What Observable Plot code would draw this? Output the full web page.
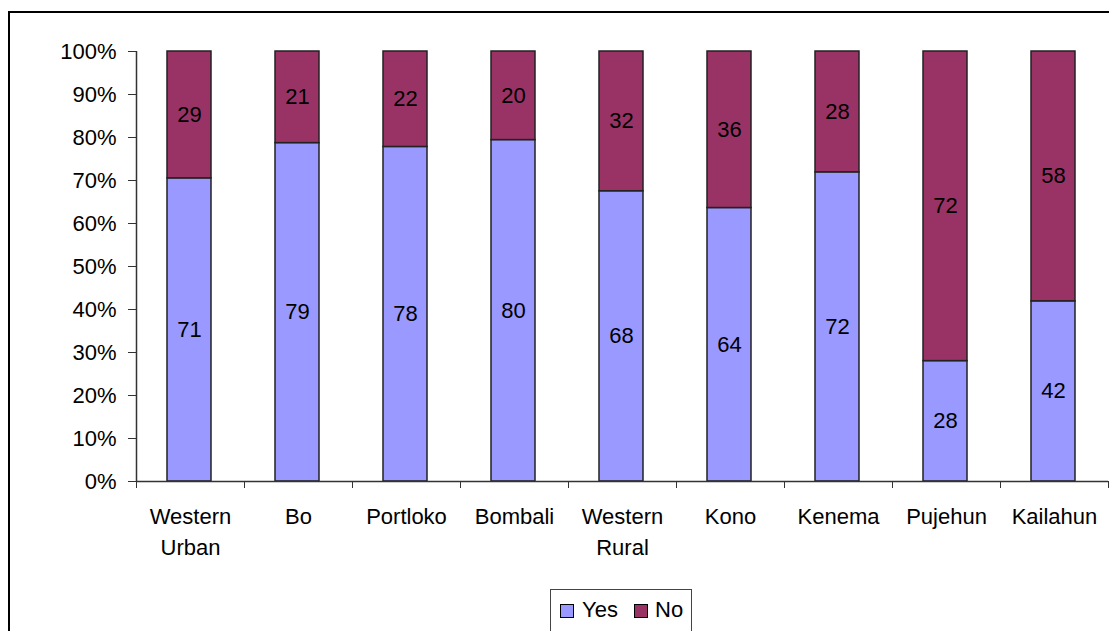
<!DOCTYPE html>
<html><head><meta charset="utf-8">
<script src="https://cdn.jsdelivr.net/npm/d3@7"></script>
<script src="https://cdn.jsdelivr.net/npm/@observablehq/plot@0.6"></script>
<style>
body{margin:0;background:#fff;font-family:"Liberation Sans",Arial,sans-serif;}
#wrap{position:relative;width:1109px;height:631px;overflow:hidden;background:#fff;}
#frame{position:absolute;left:8px;top:11px;width:1200px;height:700px;border-left:2px solid #000;border-top:2px solid #000;}
#chart{position:absolute;left:0;top:0;}
#legend{position:absolute;left:550px;top:589px;width:142px;height:44px;border:1px solid #444;background:#fff;box-sizing:border-box;}
.item{position:absolute;top:7px;font-size:22px;line-height:26px;color:#000;}
.sw{position:absolute;width:12px;height:12px;border:1px solid #000;}
</style></head>
<body>
<div id="wrap">
  <div id="frame"></div>
  <div id="chart"></div>
  <div id="legend"></div>
</div>
<script>
const districts = ["Western Urban","Bo","Portloko","Bombali","Western Rural","Kono","Kenema","Pujehun","Kailahun"];
const tickLabels = ["Western\nUrban","Bo","Portloko","Bombali","Western\nRural","Kono","Kenema","Pujehun","Kailahun"];
// labelled values (rounded, as printed)
const yesLabels = [71,79,78,80,68,64,72,28,42];
const noLabels = [29,21,22,20,32,36,28,72,58];
// bar shares (%) as drawn
const yesShare = [70.5,78.7,77.8,79.4,67.5,63.6,71.9,28.0,41.9];
const series = ["Yes","No"];
const colors = ["#9999FF","#993366"];
const yTicks = [0,10,20,30,40,50,60,70,80,90,100];

const rows = [];
districts.forEach((d,i)=>{
  rows.push({i, district:d, series:"Yes", label:yesLabels[i], y1:0, y2:yesShare[i]});
  rows.push({i, district:d, series:"No", label:noLabels[i], y1:yesShare[i], y2:100});
});
const idx = districts.map((d,i)=>i);
const bounds = d3.range(districts.length+1);

const chart = Plot.plot({
  width:1109, height:575,
  marginTop:51, marginBottom:94, marginLeft:136, marginRight:1,
  style:{fontFamily:'"Liberation Sans", Arial, sans-serif', fontSize:"22px", color:"#000", background:"transparent"},
  x:{domain:[0,districts.length]},
  y:{domain:[0,100]},
  color:{domain:series, range:colors},
  marks:[
    Plot.rectY(rows,{x1:"i", x2:d=>d.i+1, y1:"y1", y2:"y2", fill:"series", stroke:"#222", strokeWidth:1.5, insetLeft:31, insetRight:33}),
    Plot.text(rows,{x:d=>d.i+0.5, y:d=>(d.y1+d.y2)/2, dx:-1, text:d=>String(d.label), fontSize:22, fill:"#000"}),
    Plot.ruleY([0],{stroke:"#333", strokeWidth:1.5}),
    Plot.ruleX([0],{stroke:"#333", strokeWidth:1.5}),
    Plot.axisY({ticks:yTicks, tickFormat:d=>d+"%", tickSize:8, tickPadding:12, fontSize:22, stroke:"#333", label:null}),
    Plot.axisX({ticks:bounds, tickSize:7, tickFormat:()=>"", stroke:"#333", label:null}),
    Plot.axisX({ticks:idx.map(i=>i+0.5), tickSize:0, tickPadding:20, tickFormat:v=>tickLabels[Math.floor(v)], lineHeight:1.41, fontSize:22, label:null})
  ]
});
document.getElementById("chart").appendChild(chart);

const lg = document.getElementById("legend");
const pos = [{sw:9, tx:31},{sw:83, tx:104}];
series.forEach((s,k)=>{
  const sw = document.createElement("div");
  sw.className="sw"; sw.style.left=pos[k].sw+"px"; sw.style.top="14px"; sw.style.background=colors[k];
  lg.appendChild(sw);
  const t = document.createElement("div");
  t.className="item"; t.style.left=pos[k].tx+"px"; t.textContent=s;
  lg.appendChild(t);
});
</script>
</body></html>
